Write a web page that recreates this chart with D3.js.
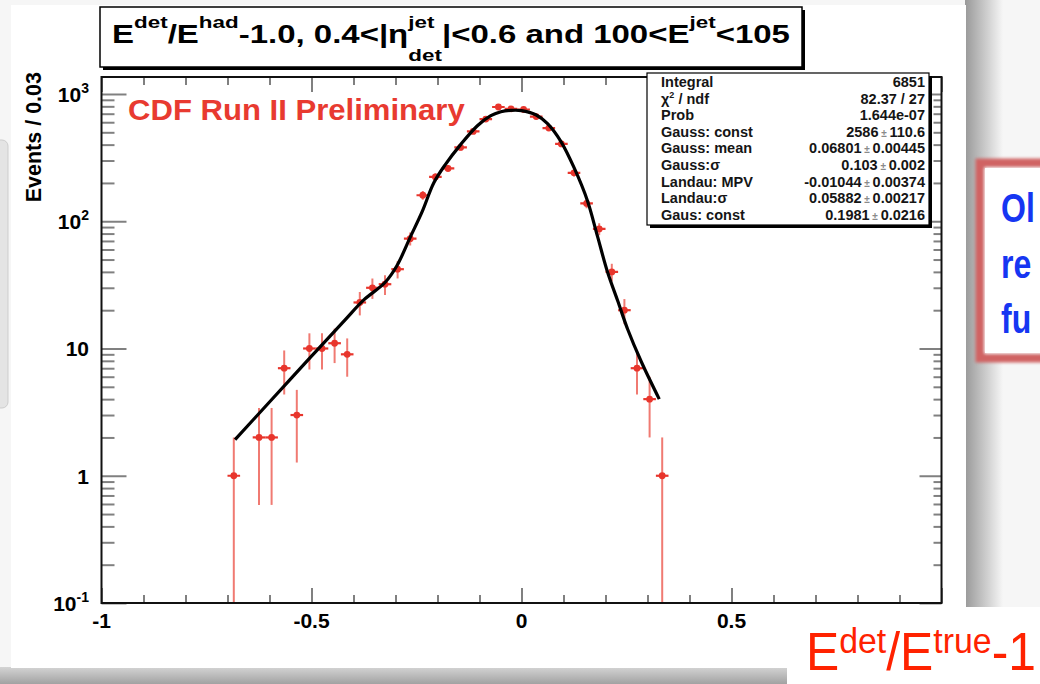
<!DOCTYPE html>
<html>
<head>
<meta charset="utf-8">
<title>E_det/E_had - 1 response, CDF Run II</title>
<script src="https://cdn.jsdelivr.net/npm/d3@7/dist/d3.min.js"></script>
<style>
  html, body { margin: 0; padding: 0; background: #f6f6f6; }
  svg { display: block; }
  svg text { font-family: "Liberation Sans", Arial, Helvetica, sans-serif; white-space: pre; }
</style>
</head>
<body>
<svg id="chart" width="1040" height="684"></svg>
<script>
// ---- histogram: E_det/E_had - 1 for 0.4<|eta_det|<0.6, 100<E_jet<105 (bin width 0.03) ----
const binCenters = [-0.685, -0.655, -0.625, -0.595, -0.565, -0.535, -0.505, -0.475, -0.445, -0.415,
                    -0.385, -0.355, -0.325, -0.295, -0.265, -0.235, -0.205, -0.175, -0.145, -0.115,
                    -0.085, -0.055, -0.025, 0.005, 0.035, 0.065, 0.095, 0.125, 0.155, 0.185,
                    0.215, 0.245, 0.275, 0.305, 0.335];
const counts = [1, 0, 2, 2, 7, 3, 10, 10, 11, 9,
                23, 30, 32, 42, 73, 160, 223, 260, 380, 508,
                635, 790, 765, 755, 665, 540, 405, 240, 138, 87,
                40, 20, 7, 4, 1];
const countErrors = [1, 0, 1.41, 1.41, 2.65, 1.73, 3.16, 3.16, 3.32, 3,
                     4.8, 5.48, 5.66, 6.48, 8.54, 12.6, 14.9, 16.1, 19.5, 22.5,
                     25.2, 28.1, 27.7, 27.5, 25.8, 23.2, 20.1, 15.5, 11.7, 9.33,
                     6.32, 4.47, 2.65, 2, 1];

// ---- fitted response function, sampled along the curve ----
const fitX = [-0.682, -0.6, -0.5, -0.42, -0.376, -0.325, -0.297, -0.264, -0.236, -0.209,
              -0.181, -0.145, -0.105, -0.073, -0.049, -0.026, 0.0, 0.034, 0.062, 0.094,
              0.126, 0.157, 0.181, 0.205, 0.229, 0.253, 0.285, 0.328];
const fitY = [1.92, 3.8, 8.7, 16.8, 24, 33, 44.5, 76, 120, 200,
              280, 400, 563, 675, 726, 743, 740, 687, 585, 423,
              260, 145, 76, 39.7, 23.7, 14.1, 7.9, 4.0];

// ---- axes ----
const xMajorTicks = [-1, -0.5, 0, 0.5, 1];
const xMinorTicks = [-0.9, -0.8, -0.7, -0.6, -0.4, -0.3, -0.2, -0.1, 0.1, 0.2, 0.3, 0.4, 0.6, 0.7, 0.8, 0.9];
const xTickLabels = ["-1", "-0.5", "0", "0.5", ""];
const yMajorTicks = [0.1, 1, 10, 100, 1000];
const yMinorTicks = [0.2, 0.3, 0.4, 0.5, 0.6, 0.7, 0.8, 0.9,
                     2, 3, 4, 5, 6, 7, 8, 9,
                     20, 30, 40, 50, 60, 70, 80, 90,
                     200, 300, 400, 500, 600, 700, 800, 900];
const yTickLabels = ["10^{-1}", "1", "10", "10^{2}", "10^{3}"];

// ---- fit statistics box ----
const statLabels = ["Integral", "\u03c7^{2} / ndf", "Prob", "Gauss: const", "Gauss: mean",
                    "Gauss:\u03c3", "Landau: MPV", "Landau:\u03c3", "Gaus: const"];
const statValues = ["6851", "82.37 / 27", "1.644e-07", "2586", "0.06801",
                    "0.103", "-0.01044", "0.05882", "0.1981"];
const statErrors = ["", "", "", "110.6", "0.00445", "0.002", "0.00374", "0.00217", "0.0216"];

const titleText = "E^{det}/E^{had}-1.0, 0.4<|\u03b7^{jet}_{det}|<0.6 and 100<E^{jet}<105";

// ---------------------------------------------------------------------------
const W = 1040, H = 684;
const X0 = 101.5, X1 = 941.5, Y0 = 77, Y1 = 603;

const svg = d3.select("#chart");
const defs = svg.append("defs");

const x = d3.scaleLinear().domain([-1, 1]).range([X0, X1]);
const y = d3.scaleLog().domain([0.1, 1360]).range([Y1, Y0]);

// tiny ROOT-style latex: ^{..} superscript, _{..} subscript, adjacent pair stacked
function parseLatex(str) {
  const out = [];
  let i = 0, buf = "";
  while (i < str.length) {
    const c = str[i];
    if ((c === "^" || c === "_") && str[i + 1] === "{") {
      if (buf) { out.push({ t: buf }); buf = ""; }
      const j = str.indexOf("}", i);
      const seg = { t: str.slice(i + 2, j), kind: c === "^" ? "sup" : "sub" };
      const prev = out[out.length - 1];
      if (prev && prev.kind && prev.kind !== seg.kind && !prev.pair) prev.pair = seg;
      else out.push(seg);
      i = j + 1;
    } else { buf += c; i++; }
  }
  if (buf) out.push({ t: buf });
  return out;
}

function drawLatex(parent, str, o) {
  const g = parent.append("g")
    .attr("font-weight", o.weight || "normal")
    .attr("fill", o.fill || "#000");
  let cx = 0;
  parseLatex(str).forEach(s => {
    if (!s.kind) {
      const t = g.append("text").attr("x", cx).attr("y", 0).attr("font-size", o.size).text(s.t);
      cx += t.node().getComputedTextLength();
    } else {
      let w = 0;
      [s, s.pair].filter(Boolean).forEach(p => {
        const t = g.append("text").attr("x", cx)
          .attr("y", p.kind === "sup" ? o.supDy : o.subDy)
          .attr("font-size", o.supSize).text(p.t);
        w = Math.max(w, t.node().getComputedTextLength());
      });
      cx += w;
    }
  });
  const k = o.width ? o.width / cx : 1;
  let tx = o.x;
  if (o.anchor === "end") tx = o.x - cx * k;
  else if (o.anchor === "middle") tx = o.x - cx * k / 2;
  g.attr("transform", `translate(${tx},${o.y}) scale(${k},1)`);
  return g;
}

// ---- slide background and drop shadows ----
const gR = defs.append("linearGradient").attr("id", "shadowRight")
  .attr("x1", 0).attr("x2", 1).attr("y1", 0).attr("y2", 0);
gR.append("stop").attr("offset", 0).attr("stop-color", "#999999");
gR.append("stop").attr("offset", 1).attr("stop-color", "#f6f6f6");
const gB = defs.append("linearGradient").attr("id", "shadowBottom")
  .attr("x1", 0).attr("x2", 0).attr("y1", 0).attr("y2", 1);
gB.append("stop").attr("offset", 0).attr("stop-color", "#d4d4d4");
gB.append("stop").attr("offset", 1).attr("stop-color", "#a2a2a2");

svg.append("rect").attr("width", W).attr("height", H).attr("fill", "#f6f6f6");
svg.append("rect").attr("x", -12).attr("y", 140).attr("width", 20).attr("height", 268)
  .attr("rx", 6).attr("fill", "#e4e4e4").attr("stroke", "#cdcdcd");
svg.append("rect").attr("x", 965).attr("y", 0).attr("width", 38).attr("height", 610)
  .attr("fill", "url(#shadowRight)");
svg.append("rect").attr("x", 0).attr("y", 667).attr("width", 787).attr("height", 17)
  .attr("fill", "url(#shadowBottom)");
svg.append("rect").attr("x", 11).attr("y", 5).attr("width", 955).attr("height", 663).attr("fill", "#ffffff");
svg.append("rect").attr("x", 787).attr("y", 607).attr("width", 253).attr("height", 77).attr("fill", "#ffffff");

// ---- side note box (cut by the slide edge) ----
defs.append("filter").attr("id", "soft").attr("x", "-10%").attr("y", "-10%").attr("width", "130%").attr("height", "130%")
  .append("feGaussianBlur").attr("stdDeviation", 1.6);
svg.append("rect").attr("x", 980).attr("y", 163).attr("width", 120).attr("height", 195)
  .attr("fill", "#ffffff").attr("stroke", "#d06464").attr("stroke-width", 9).attr("filter", "url(#soft)");
svg.append("rect").attr("x", 985).attr("y", 168).attr("width", 120).attr("height", 185).attr("fill", "#ffffff");
const note = svg.append("g").attr("fill", "#1636f2").attr("font-weight", "bold").attr("font-size", 40);
[["Ol", 222], ["re", 278], ["fu", 333]].forEach(([t, by]) => {
  note.append("text").attr("transform", `translate(1001,${by}) scale(0.8,1)`).text(t);
});

// ---- frame ----
defs.append("clipPath").attr("id", "frameClip").append("rect")
  .attr("x", X0).attr("y", Y0).attr("width", X1 - X0).attr("height", Y1 - Y0);

// ticks on all four sides (pointing inward)
function styleAxis(g) {
  g.select(".domain").remove();
  g.attr("color", "#808080").selectAll("line").attr("stroke-width", 2);
}
svg.append("g").attr("transform", `translate(0,${Y1})`)
  .call(d3.axisBottom(x).tickValues(xMajorTicks).tickSizeInner(-15).tickSizeOuter(0).tickFormat(""))
  .call(styleAxis);
svg.append("g").attr("transform", `translate(0,${Y1})`)
  .call(d3.axisBottom(x).tickValues(xMinorTicks).tickSizeInner(-8).tickSizeOuter(0).tickFormat(""))
  .call(styleAxis);
svg.append("g").attr("transform", `translate(0,${Y0})`)
  .call(d3.axisTop(x).tickValues(xMajorTicks).tickSizeInner(-15).tickSizeOuter(0).tickFormat(""))
  .call(styleAxis);
svg.append("g").attr("transform", `translate(0,${Y0})`)
  .call(d3.axisTop(x).tickValues(xMinorTicks).tickSizeInner(-8).tickSizeOuter(0).tickFormat(""))
  .call(styleAxis);
svg.append("g").attr("transform", `translate(${X0},0)`)
  .call(d3.axisLeft(y).tickValues(yMajorTicks).tickSizeInner(-25).tickSizeOuter(0).tickFormat(""))
  .call(styleAxis);
svg.append("g").attr("transform", `translate(${X0},0)`)
  .call(d3.axisLeft(y).tickValues(yMinorTicks).tickSizeInner(-13).tickSizeOuter(0).tickFormat(""))
  .call(styleAxis);
svg.append("g").attr("transform", `translate(${X1},0)`)
  .call(d3.axisRight(y).tickValues(yMajorTicks).tickSizeInner(-22).tickSizeOuter(0).tickFormat(""))
  .call(styleAxis);
svg.append("g").attr("transform", `translate(${X1},0)`)
  .call(d3.axisRight(y).tickValues(yMinorTicks).tickSizeInner(-8).tickSizeOuter(0).tickFormat(""))
  .call(styleAxis);

// tick labels
xMajorTicks.forEach((v, i) => {
  if (!xTickLabels[i]) return;
  svg.append("text").attr("x", x(v)).attr("y", 628).attr("text-anchor", "middle")
    .attr("font-size", 21).attr("font-weight", "bold").attr("fill", "#000").text(xTickLabels[i]);
});
yMajorTicks.forEach((v, i) => {
  drawLatex(svg, yTickLabels[i], { x: 89, y: y(v) + 8, size: 21, supSize: 14, supDy: -9, subDy: 6,
    anchor: "end", weight: "bold" });
});

// axis title
svg.append("text").attr("transform", `translate(41,72) rotate(-90)`).attr("text-anchor", "end")
  .attr("font-size", 21.5).attr("font-weight", "bold").attr("fill", "#000").text("Events / 0.03");

// ---- data points with Poisson errors ----
const plot = svg.append("g").attr("clip-path", "url(#frameClip)");
const pts = binCenters.map((c, i) => ({ c, n: counts[i], e: countErrors[i] })).filter(d => d.n > 0);

plot.append("g").attr("stroke", "#f07a72").attr("stroke-width", 2)
  .selectAll("line").data(pts).join("line")
  .attr("x1", d => x(d.c)).attr("x2", d => x(d.c))
  .attr("y1", d => d.n - d.e > 0 ? y(d.n - d.e) : Y1 + 2)
  .attr("y2", d => y(d.n + d.e));
plot.append("g").attr("stroke", "#e8352c").attr("stroke-width", 2.2)
  .selectAll("line").data(pts).join("line")
  .attr("x1", d => x(d.c - 0.015)).attr("x2", d => x(d.c + 0.015))
  .attr("y1", d => y(d.n)).attr("y2", d => y(d.n));
plot.append("g").attr("fill", "#e8352c")
  .selectAll("circle").data(pts).join("circle")
  .attr("cx", d => x(d.c)).attr("cy", d => y(d.n)).attr("r", 3.4);

// ---- fit curve ----
const fitPts = fitX.map((v, i) => [v, fitY[i]]);
plot.append("path").datum(fitPts)
  .attr("fill", "none").attr("stroke", "#000").attr("stroke-width", 3.2)
  .attr("stroke-linecap", "butt")
  .attr("d", d3.line().x(d => x(d[0])).y(d => y(d[1])).curve(d3.curveCatmullRom.alpha(0.5)));

// frame border
svg.append("rect").attr("x", X0).attr("y", Y0).attr("width", X1 - X0).attr("height", Y1 - Y0)
  .attr("fill", "none").attr("stroke", "#111").attr("stroke-width", 2);

// ---- preliminary label ----
drawLatex(svg, "CDF Run II Preliminary", { x: 128, y: 120, size: 29, weight: "bold",
  fill: "#e83a30", anchor: "start", width: 337 });

// ---- title box ----
svg.append("rect").attr("x", 103).attr("y", 10).attr("width", 702).attr("height", 60).attr("fill", "#000");
svg.append("rect").attr("x", 100).attr("y", 7).attr("width", 702).attr("height", 60)
  .attr("fill", "#fff").attr("stroke", "#000").attr("stroke-width", 1.5);
drawLatex(svg, titleText, { x: 112, y: 43, size: 25, supSize: 17, supDy: -15, subDy: 18,
  anchor: "start", weight: "bold", width: 678 });

// ---- statistics box ----
svg.append("rect").attr("x", 650).attr("y", 76).attr("width", 282).attr("height", 152).attr("fill", "#000");
svg.append("rect").attr("x", 647).attr("y", 73).attr("width", 282).attr("height", 152)
  .attr("fill", "#fff").attr("stroke", "#000").attr("stroke-width", 1.2);
statLabels.forEach((lab, i) => {
  const by = 87 + i * 16.6;
  drawLatex(svg, lab, { x: 661, y: by, size: 14.5, supSize: 9, supDy: -6, subDy: 4,
    anchor: "start", weight: "bold", fill: "#151515" });
  const t = svg.append("text").attr("x", 925).attr("y", by).attr("text-anchor", "end")
    .attr("font-size", 14.5).attr("font-weight", "bold").attr("fill", "#151515");
  t.append("tspan").text(statValues[i]);
  if (statErrors[i]) {
    t.append("tspan").attr("font-size", 10).attr("fill", "#8a8a8a").text(" \u00b1 ");
    t.append("tspan").text(statErrors[i]);
  }
});

// ---- x quantity annotation ----
drawLatex(svg, "E^{det}/E^{true}-1", { x: 806, y: 670, size: 53, supSize: 36, supDy: -17, subDy: 10,
  anchor: "start", fill: "#ff2200", width: 230 });
</script>
</body>
</html>
